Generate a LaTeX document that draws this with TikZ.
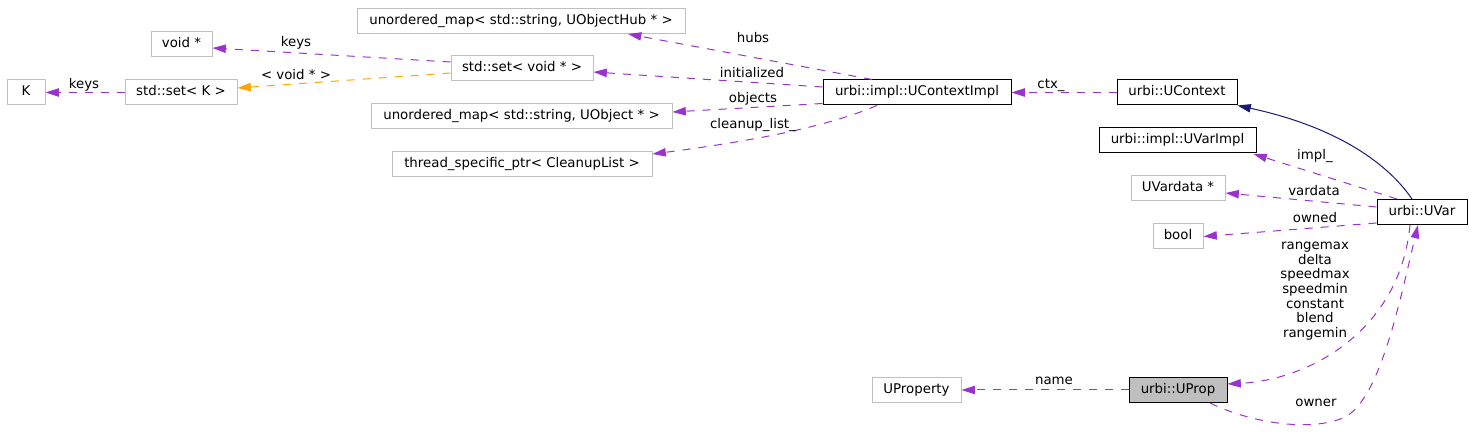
\documentclass[tikz,border=0pt]{standalone}
\usepackage{fontspec}
\setmainfont{DejaVu Sans}
\usetikzlibrary{arrows.meta, positioning, calc}
\definecolor{usecol}{HTML}{9A32CD}
\definecolor{tmplcol}{HTML}{FFA500}
\definecolor{inhcol}{HTML}{191970}
\definecolor{graybox}{HTML}{BFBFBF}

\begin{document}
\begin{tikzpicture}[x=0.75pt, y=-0.75pt,
  every node/.style={font=\fontsize{10}{11}\selectfont, inner sep=0pt},
  box/.style={line width=0.75pt, minimum height=18.75pt, text height=7.5pt,
    text depth=2.5pt, minimum width=#1*0.75pt},
  member/.style={box=#1, draw=graybox},
  klass/.style={box=#1, draw=black},
  lbl/.style={text height=7.5pt, text depth=2.5pt},
  link/.style={line width=0.75pt, -{Triangle[length=10pt,width=6.25pt]}},
  uses/.style={link, usecol, dash pattern=on 6pt off 6pt},
  tmpl/.style={link, tmplcol, dash pattern=on 6pt off 6pt},
  inherit/.style={link, inhcol}]
  \useasboundingbox (0,0) rectangle (1472,448);

  % Left side
  \node[member=38]  (kt)      at (26,92.5)    {K};
  \node[member=112] (setk)    at (181,92.5)   {std::set< K >};
  \node[member=61]  (voidptr) at (181.5,44.5) {void *};

  % Containers
  \node[member=328] (hubmap)  at (521,21)      {unordered\_map< std::string, UObjectHub * >};
  \node[member=142] (setvoid) at (522,68.5)    {std::set< void * >};
  \node[member=301] (objmap)  at (521.5,116.5) {unordered\_map< std::string, UObject * >};
  \node[member=260] (cleanup) at (522,164.5)   {thread\_specific\_ptr< CleanupList >};

  % Context
  \node[klass=188] (ctximpl) at (917,92.5)  {urbi::impl::UContextImpl};
  \node[klass=120] (ctx)     at (1177,92.5) {urbi::UContext};

  % Variable
  \node[klass=157]  (varimpl)  at (1177.5,140.5) {urbi::impl::UVarImpl};
  \node[member=94]  (vardata)  at (1178,188.5)   {UVardata *};
  \node[member=50]  (booltype) at (1178,236.5)   {bool};
  \node[klass=90]   (uvar)     at (1422,212)     {urbi::UVar};

  % Property
  \node[klass=98, fill=graybox] (uprop) at (1178,390)   {urbi::UProp};
  \node[member=89] (uproperty)          at (916.5,390)  {UProperty};

  % Edges of the context
  \draw[uses] ($(ctximpl.north)+(-45,0)$) -- ($(hubmap.south)+(107,0)$);
  \draw[uses] ($(ctximpl.west)+(0,-5.5)$) -- ($(setvoid.east)+(0,3.5)$);
  \draw[uses] ($(ctximpl.west)+(0,11)$) -- ($(objmap.east)+(0,-4.5)$);
  \draw[uses] ($(ctximpl.south)+(-40,0)$) .. controls +(-47,20) and +(108,-14)
    .. ($(cleanup.east)+(0,-10.5)$);
  \node[lbl] (lhubs)    at (753,39)  {hubs};
  \node[lbl] (linit)    at (752,74)  {initialized};
  \node[lbl] (lobjects) at (753,99)  {objects};
  \node[lbl] (lcleanup) at (753,125) {cleanup\_list\_};

  % Edges of the sets
  \draw[uses] ($(setvoid.west)+(0,-6.5)$) -- ($(voidptr.east)+(0,3.5)$);
  \draw[tmpl] ($(setvoid.west)+(0,4.5)$) -- ($(setk.east)+(0,-4.5)$);
  \draw[uses] (setk.west) -- (kt.east);
  \node[lbl] (lkeysvoid) at (296,43) {keys};
  \node[lbl] (ltmpl)     at (296,76) {< void * >};
  \node[lbl] (lkeysk)    at (84,85)  {keys};

  % Edges of the variable
  \draw[uses] (ctx.west) -- (ctximpl.east);
  \node[lbl] (lctx) at (1051,85) {ctx\_};
  \draw[inherit] ($(uvar.north)+(-10,0)$) .. controls +(-27,-39.5) and +(93,20)
    .. (ctx.south east);
  \draw[uses] ($(uvar.north)+(-25,0)$) -- ($(varimpl.south east)+(-3,0.5)$);
  \draw[uses] ($(uvar.west)+(0,-5)$) -- ($(vardata.east)+(0,4.5)$);
  \draw[uses] ($(uvar.west)+(0,11)$) -- (booltype.east);
  \node[lbl] (limpl)    at (1315,156) {impl\_};
  \node[lbl] (lvardata) at (1314,192) {vardata};
  \node[lbl] (lowned)   at (1315,219) {owned};

  % Edges of the property
  \draw[uses] ($(uvar.south)+(-12,0)$) .. controls +(-10,105.5) and +(82,-4)
    .. ($(uprop.east)+(0,-6)$);
  \draw[uses] ($(uprop.south)+(32,0)$) .. controls +(40,19.5) and +(-34,15)
    .. ++(134,14.5) .. controls +(36,-17) and +(-18,75) .. ($(uvar.south)+(-4,0)$);
  \draw[uses] (uprop.west) -- (uproperty.east);
  \node[align=center] (lprops) at (1315,291)
    {rangemax\\delta\\speedmax\\speedmin\\constant\\blend\\rangemin};
  \node[lbl] (lname)  at (1054,381) {name};
  \node[lbl] (lowner) at (1316,403) {owner};
\end{tikzpicture}
\end{document}
